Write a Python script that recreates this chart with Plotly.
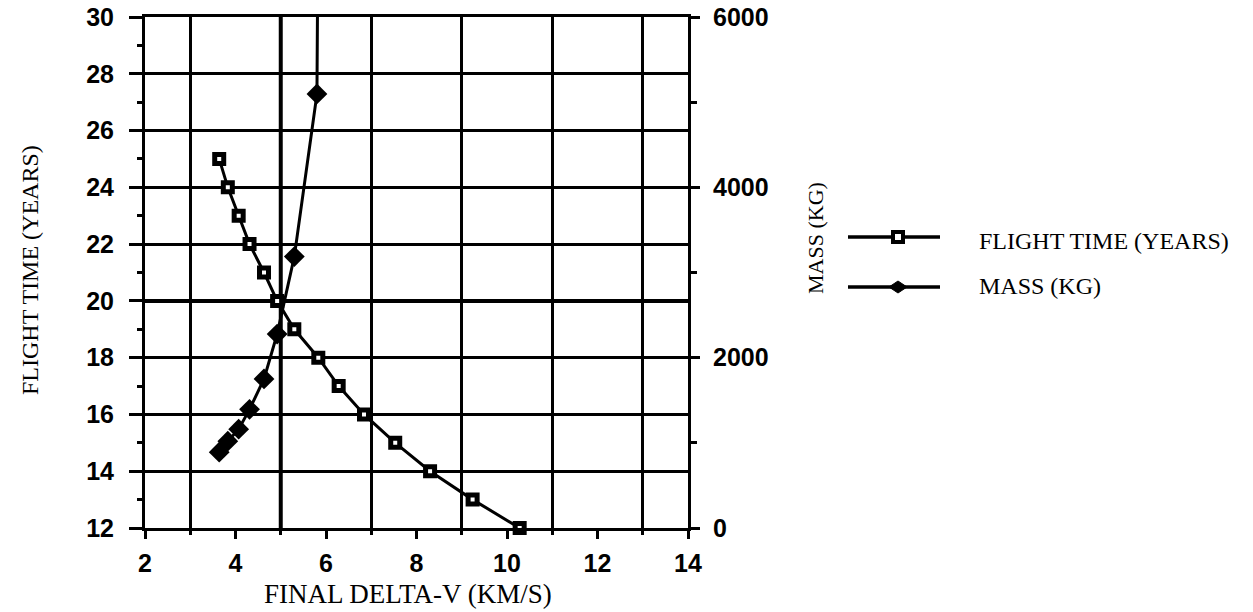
import plotly.graph_objects as go

# ---- data ----
delta_v = [3.64, 3.83, 4.07, 4.31, 4.63, 4.92, 5.30, 5.83, 6.28, 6.84, 7.53, 8.30, 9.24, 10.28]
flight_time = [25, 24, 23, 22, 21, 20, 19, 18, 17, 16, 15, 14, 13, 12]
mass_delta_v = [3.64, 3.83, 4.07, 4.31, 4.63, 4.92, 5.30, 5.80, 6.28]
mass_kg = [890, 1020, 1160, 1393, 1750, 2277, 3187, 5097, 45000]

x_ticks = [2, 4, 6, 8, 10, 12, 14]
x_grid = [3, 5, 7, 9, 11, 13]
y_ticks = [12, 14, 16, 18, 20, 22, 24, 26, 28, 30]
y_minor = [13, 15, 17, 19, 21, 23, 25, 27, 29]
y2_ticks = [0, 2000, 4000, 6000]
y2_minor = [1000, 3000, 5000]

# ---- layout geometry (screen pixels; page body has an 8px margin) ----
OFF = 8
W, H = 1253 - OFF, 612 - OFF
L, R, T, B = 145 - OFF, 688 - OFF, 17 - OFF, 528 - OFF
PW, PH = R - L, B - T


def px(xs):
    """screen x pixel -> paper coordinate"""
    return (xs - OFF - L) / PW


def py(ys):
    """screen y pixel -> paper coordinate"""
    return (B - (ys - OFF)) / PH


TICKFONT = dict(family="Liberation Sans", size=25, color="black", weight="bold")
SERIF = dict(family="Liberation Serif", size=24, color="black")

fig = go.Figure()
fig.add_trace(go.Scatter(
    x=delta_v, y=flight_time, mode="lines+markers", name="FLIGHT TIME (YEARS)",
    line=dict(color="black", width=3),
    marker=dict(symbol="square", size=9, color="white", line=dict(color="black", width=5)),
    cliponaxis=False, showlegend=False,
))
fig.add_trace(go.Scatter(
    x=mass_delta_v, y=mass_kg, mode="lines+markers", name="MASS (KG)", yaxis="y2",
    line=dict(color="black", width=3),
    marker=dict(symbol="diamond", size=16, color="black"),
    cliponaxis=False, showlegend=False,
))

# bolder reference lines seen in the original
fig.add_shape(type="line", xref="x", yref="paper", x0=5, x1=5, y0=0, y1=1,
              line=dict(color="black", width=4), layer="below")
fig.add_shape(type="line", xref="paper", yref="y", x0=0, x1=1, y0=20, y1=20,
              line=dict(color="black", width=4), layer="below")

# ---- manual legend ----
for yy, sym in [(237, "square"), (287, "diamond")]:
    fig.add_shape(type="line", xref="paper", yref="paper", x0=px(848), x1=px(940),
                  y0=py(yy), y1=py(yy), line=dict(color="black", width=3.5))
    cx = 898
    if sym == "square":
        fig.add_shape(type="rect", xref="paper", yref="paper",
                      x0=px(cx - 5), x1=px(cx + 5), y0=py(yy + 5), y1=py(yy - 5),
                      fillcolor="white", line=dict(color="black", width=4))
    else:
        d = 9
        path = (f"M {px(cx - d)} {py(yy)} L {px(cx)} {py(yy - 6)} "
                f"L {px(cx + d)} {py(yy)} L {px(cx)} {py(yy + 6)} Z")
        fig.add_shape(type="path", xref="paper", yref="paper", path=path,
                      fillcolor="black", line=dict(color="black", width=1))

annotations = [
    dict(text="FLIGHT TIME (YEARS)", x=px(977), y=py(241), xanchor="left", yanchor="middle"),
    dict(text="MASS (KG)", x=px(977), y=py(286), xanchor="left", yanchor="middle"),
    dict(text="FINAL DELTA-V (KM/S)", x=px(408), y=py(594), xanchor="center", yanchor="middle",
         font=dict(family="Liberation Serif", size=27, color="black")),
    dict(text="FLIGHT TIME (YEARS)", x=px(30), y=py(270), xanchor="center", yanchor="middle",
         textangle=-90),
    dict(text="MASS (KG)", x=px(815), y=py(238), xanchor="center", yanchor="middle",
         textangle=-90, font=dict(family="Liberation Serif", size=22, color="black")),
]
for a in annotations:
    a.setdefault("font", SERIF)
    a.update(xref="paper", yref="paper", showarrow=False)
    fig.add_annotation(**a)

fig.update_layout(
    width=W, height=H,
    margin=dict(l=L, r=W - R, t=T, b=H - B, autoexpand=False),
    paper_bgcolor="white", plot_bgcolor="white",
    xaxis=dict(
        range=[2, 14], tickmode="array", tickvals=x_ticks, ticks="outside",
        ticklen=8, tickwidth=3, tickcolor="black", showgrid=False, zeroline=False,
        showline=True, linewidth=3, linecolor="black", mirror=True, automargin=False,
        tickfont=TICKFONT, ticklabelstandoff=3, ticklabeloverflow="allow",
        minor=dict(tickmode="array", tickvals=x_grid, showgrid=True, gridcolor="black",
                   gridwidth=2.5, ticks="outside", ticklen=4, tickwidth=2.5, tickcolor="black"),
    ),
    yaxis=dict(
        range=[12, 30], tickmode="array", tickvals=y_ticks, ticks="outside",
        ticklen=13, tickwidth=3, tickcolor="black", showgrid=True, gridcolor="black",
        gridwidth=2.5, zeroline=False, showline=True, linewidth=3, linecolor="black",
        automargin=False, tickfont=TICKFONT, ticklabelstandoff=10, ticklabeloverflow="allow",
        minor=dict(tickmode="array", tickvals=y_minor, ticks="outside", ticklen=5,
                   tickwidth=3, tickcolor="black", showgrid=False),
    ),
    yaxis2=dict(
        range=[0, 6000], overlaying="y", side="right", anchor="x",
        tickmode="array", tickvals=y2_ticks, ticks="outside", ticklen=9, tickwidth=3,
        tickcolor="black", showgrid=False, zeroline=False, showline=True, linewidth=3,
        linecolor="black", automargin=False, tickfont=TICKFONT, ticklabelstandoff=8,
        ticklabeloverflow="allow",
        minor=dict(tickmode="array", tickvals=y2_minor, ticks="outside", ticklen=6,
                   tickwidth=3, tickcolor="black", showgrid=False),
    ),
)

fig.write_html("out.html")
